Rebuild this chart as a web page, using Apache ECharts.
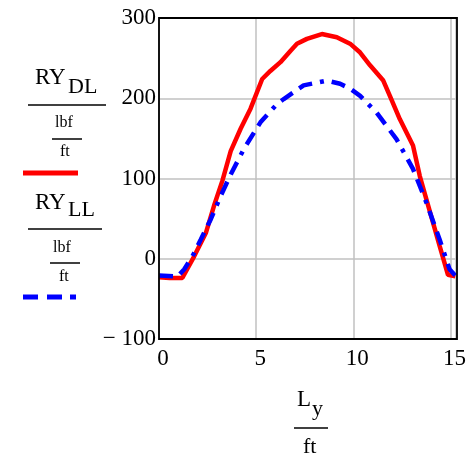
<!DOCTYPE html>
<html><head><meta charset="utf-8">
<script src="https://cdn.jsdelivr.net/npm/echarts@6/dist/echarts.min.js"></script>
<style>html,body{margin:0;padding:0;background:#fff}#c{width:469px;height:458px}</style>
</head><body><div id="c"></div>
<script>
const xDL = [0, 0.55, 1.2, 1.81, 2.41, 2.83, 3.26, 3.69, 4.2, 4.71, 5.31, 5.73, 6.25, 6.76, 7.1, 7.61, 8.38, 9.15, 9.83, 10.35, 10.86, 11.54, 11.88, 12.39, 13.07, 13.42, 13.76, 14.1, 14.44, 14.87, 15.25];
const yDL = [-23, -24, -24, 3, 32, 66, 97, 134, 162, 187, 224, 234, 245, 259, 268, 274, 280, 276, 268, 257, 241, 222, 203, 174, 141, 103, 74, 45, 16, -20, -22];
const xLL = [0, 0.96, 1.3, 1.72, 2.15, 2.66, 3.17, 3.69, 4.37, 5.22, 6.08, 6.42, 7.44, 8.64, 9.32, 9.83, 10.35, 11.2, 12.22, 13.07, 13.76, 14.44, 14.95, 15.25];
const yLL = [-21, -22, -13, 3, 24, 49, 78, 105, 137, 170, 193, 199, 216, 222, 218, 212, 203, 182, 149, 112, 70, 24, -13, -21];
const xTicks = [0, 5, 10, 15];
const yTicks = [-100, 0, 100, 200, 300];

const font = "'Liberation Serif', 'Times New Roman', serif";
const chart = echarts.init(document.getElementById('c'), null, {renderer: 'canvas'});
const txt = (x, y, s, size) => ({type: 'text', left: x, top: y, style: {text: s, font: size + 'px ' + font, fill: '#000'}});
const hl = (x1, x2, y, w) => ({type: 'line', shape: {x1: x1, y1: y, x2: x2, y2: y}, style: {stroke: '#000', lineWidth: w}});
chart.setOption({
  animation: false,
  grid: {left: 159, right: 12, top: 18, bottom: 119, show: false},
  xAxis: {
    type: 'value', min: 0, max: 15.25, interval: 5,
    axisLine: {show: false}, axisTick: {show: false},
    splitLine: {show: true, lineStyle: {color: '#c0c0c0', width: 1.5}},
    axisLabel: {
      fontFamily: font, fontSize: 23, color: '#000', margin: 8, padding: [0, 0, 0, 8],
      formatter: v => xTicks.includes(v) ? String(v) : ''
    }
  },
  yAxis: {
    type: 'value', min: -100, max: 300, interval: 100,
    axisLine: {show: false}, axisTick: {show: false},
    splitLine: {show: true, lineStyle: {color: '#c0c0c0', width: 1.5}},
    axisLabel: {
      fontFamily: font, fontSize: 23, color: '#000', margin: 3,
      formatter: v => yTicks.includes(v) ? (v < 0 ? '\u2212 ' + Math.abs(v) : String(v)) : ''
    }
  },
  series: [
    {type: 'line', data: xDL.map((x, i) => [x, yDL[i]]), showSymbol: false, lineStyle: {color: '#ff0000', width: 4.5}, z: 3},
    {type: 'line', data: xLL.map((x, i) => [x, yLL[i]]), showSymbol: false, lineStyle: {color: '#0000ff', width: 4.5, type: [14, 8, 14, 8, 4, 8], cap: 'butt'}, z: 4}
  ],
  graphic: [
    {type: 'rect', shape: {x: 159, y: 18, width: 298, height: 321}, style: {fill: 'none', stroke: '#000', lineWidth: 1.8}, z: 100},
    txt(35, 66, 'RY', 23), txt(68, 76, 'DL', 22),
    hl(28, 106, 105, 1.5),
    txt(55, 115, 'lbf', 16), hl(52, 82, 139, 1.5), txt(60, 144, 'ft', 16),
    {type: 'line', shape: {x1: 23, y1: 173, x2: 78, y2: 173}, style: {stroke: '#ff0000', lineWidth: 5}},
    txt(35, 191, 'RY', 23), txt(68, 199, 'LL', 22),
    hl(28, 102, 229, 1.5),
    txt(53, 240, 'lbf', 16), hl(50, 80, 263, 1.5), txt(59, 269, 'ft', 16),
    {type: 'line', shape: {x1: 23, y1: 297, x2: 38, y2: 297}, style: {stroke: '#0000ff', lineWidth: 5}},
    {type: 'line', shape: {x1: 47, y1: 297, x2: 62, y2: 297}, style: {stroke: '#0000ff', lineWidth: 5}},
    {type: 'line', shape: {x1: 70, y1: 297, x2: 76, y2: 297}, style: {stroke: '#0000ff', lineWidth: 5}},
    txt(297, 388, 'L', 23), txt(312, 398, 'y', 22),
    hl(294, 328, 428, 1.5),
    txt(303, 436, 'ft', 22)
  ]
});
</script></body></html>
